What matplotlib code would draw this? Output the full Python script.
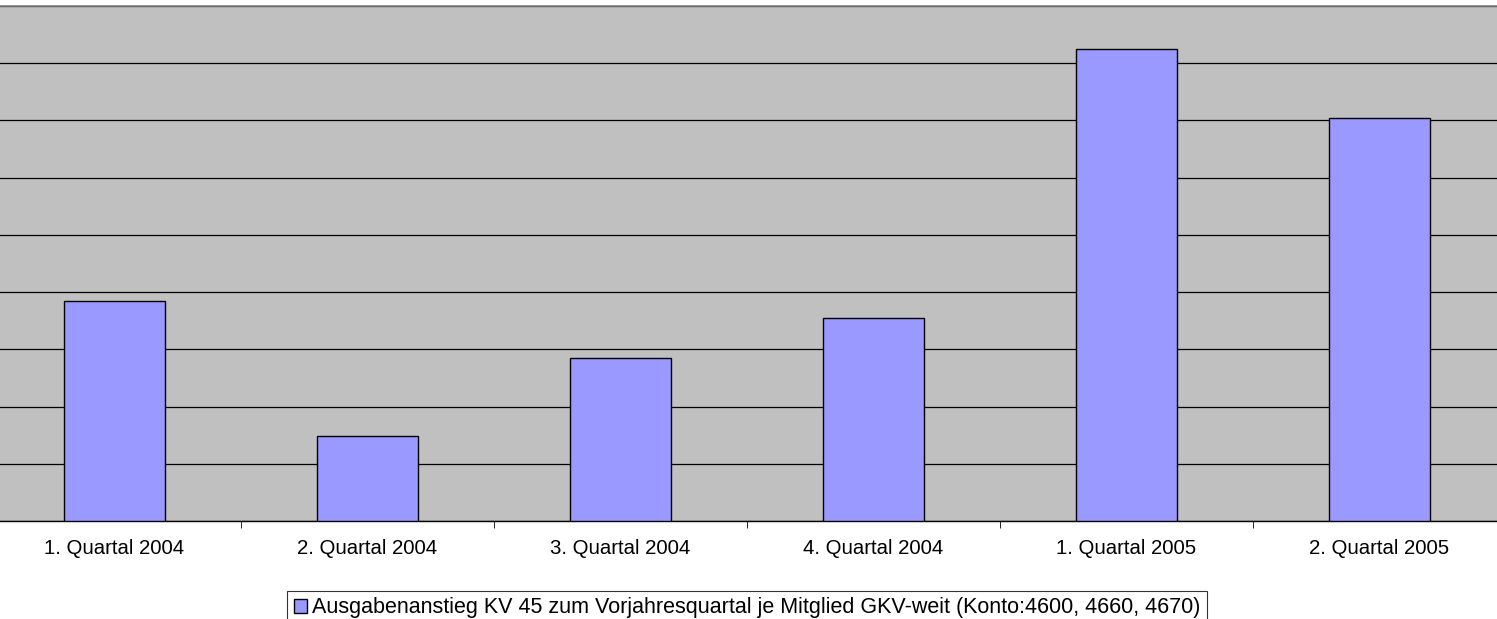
import numpy as np
import matplotlib
matplotlib.use("Agg")
from matplotlib import pyplot as plt

# Werte (Anstieg in %)
quartale = ["1. Quartal 2004", "2. Quartal 2004", "3. Quartal 2004",
            "4. Quartal 2004", "1. Quartal 2005", "2. Quartal 2005"]
anstieg = [1.92, 0.74, 1.42, 1.77, 4.12, 3.52]
serie = "Ausgabenanstieg KV 45 zum Vorjahresquartal je Mitglied GKV-weit (Konto:4600, 4660, 4670)"

plt.rcParams["font.family"] = ["Liberation Sans", "DejaVu Sans"]

fig = plt.figure(figsize=(14.97, 6.19), dpi=100)
ax = fig.add_axes([-12 / 1497, 1 - 521 / 619, 1518 / 1497, 515 / 619])
ax.set_facecolor("#c0c0c0")

x = np.arange(len(quartale))
ax.bar(x, anstieg, width=0.4, color="#9999ff", edgecolor="black",
       linewidth=1.0, zorder=3, label=serie)

ax.set_xlim(-0.5, len(quartale) - 0.5)
ax.set_ylim(0, 4.5)
ax.set_yticks(np.arange(0, 4.51, 0.5))
ax.yaxis.grid(True, color="black", linewidth=0.9, zorder=1)
ax.tick_params(axis="y", left=False, labelleft=False)

ax.set_xticks(x)
ax.set_xticklabels(quartale, fontsize=14.7)
ax.set_xticks(np.arange(0.5, len(quartale) - 0.5), minor=True)
ax.tick_params(axis="x", which="major", length=0, pad=13)
ax.tick_params(axis="x", which="minor", length=5, color="black")

for side in ["left", "right"]:
    ax.spines[side].set_visible(False)
ax.spines["top"].set_color("#808080")
ax.spines["top"].set_linewidth(1.2)
ax.spines["bottom"].set_color("black")
ax.spines["bottom"].set_linewidth(1.0)

leg = fig.legend(loc="upper center", bbox_to_anchor=(747 / 1497, 1 - 591 / 619),
                 fontsize=15.5, frameon=True, fancybox=False, edgecolor="black",
                 handlelength=0.6, handleheight=0.6, handletextpad=0.25,
                 borderpad=0.3, borderaxespad=0)
leg.get_frame().set_linewidth(0.8)

fig.savefig("out.png", dpi=100, facecolor="white")
